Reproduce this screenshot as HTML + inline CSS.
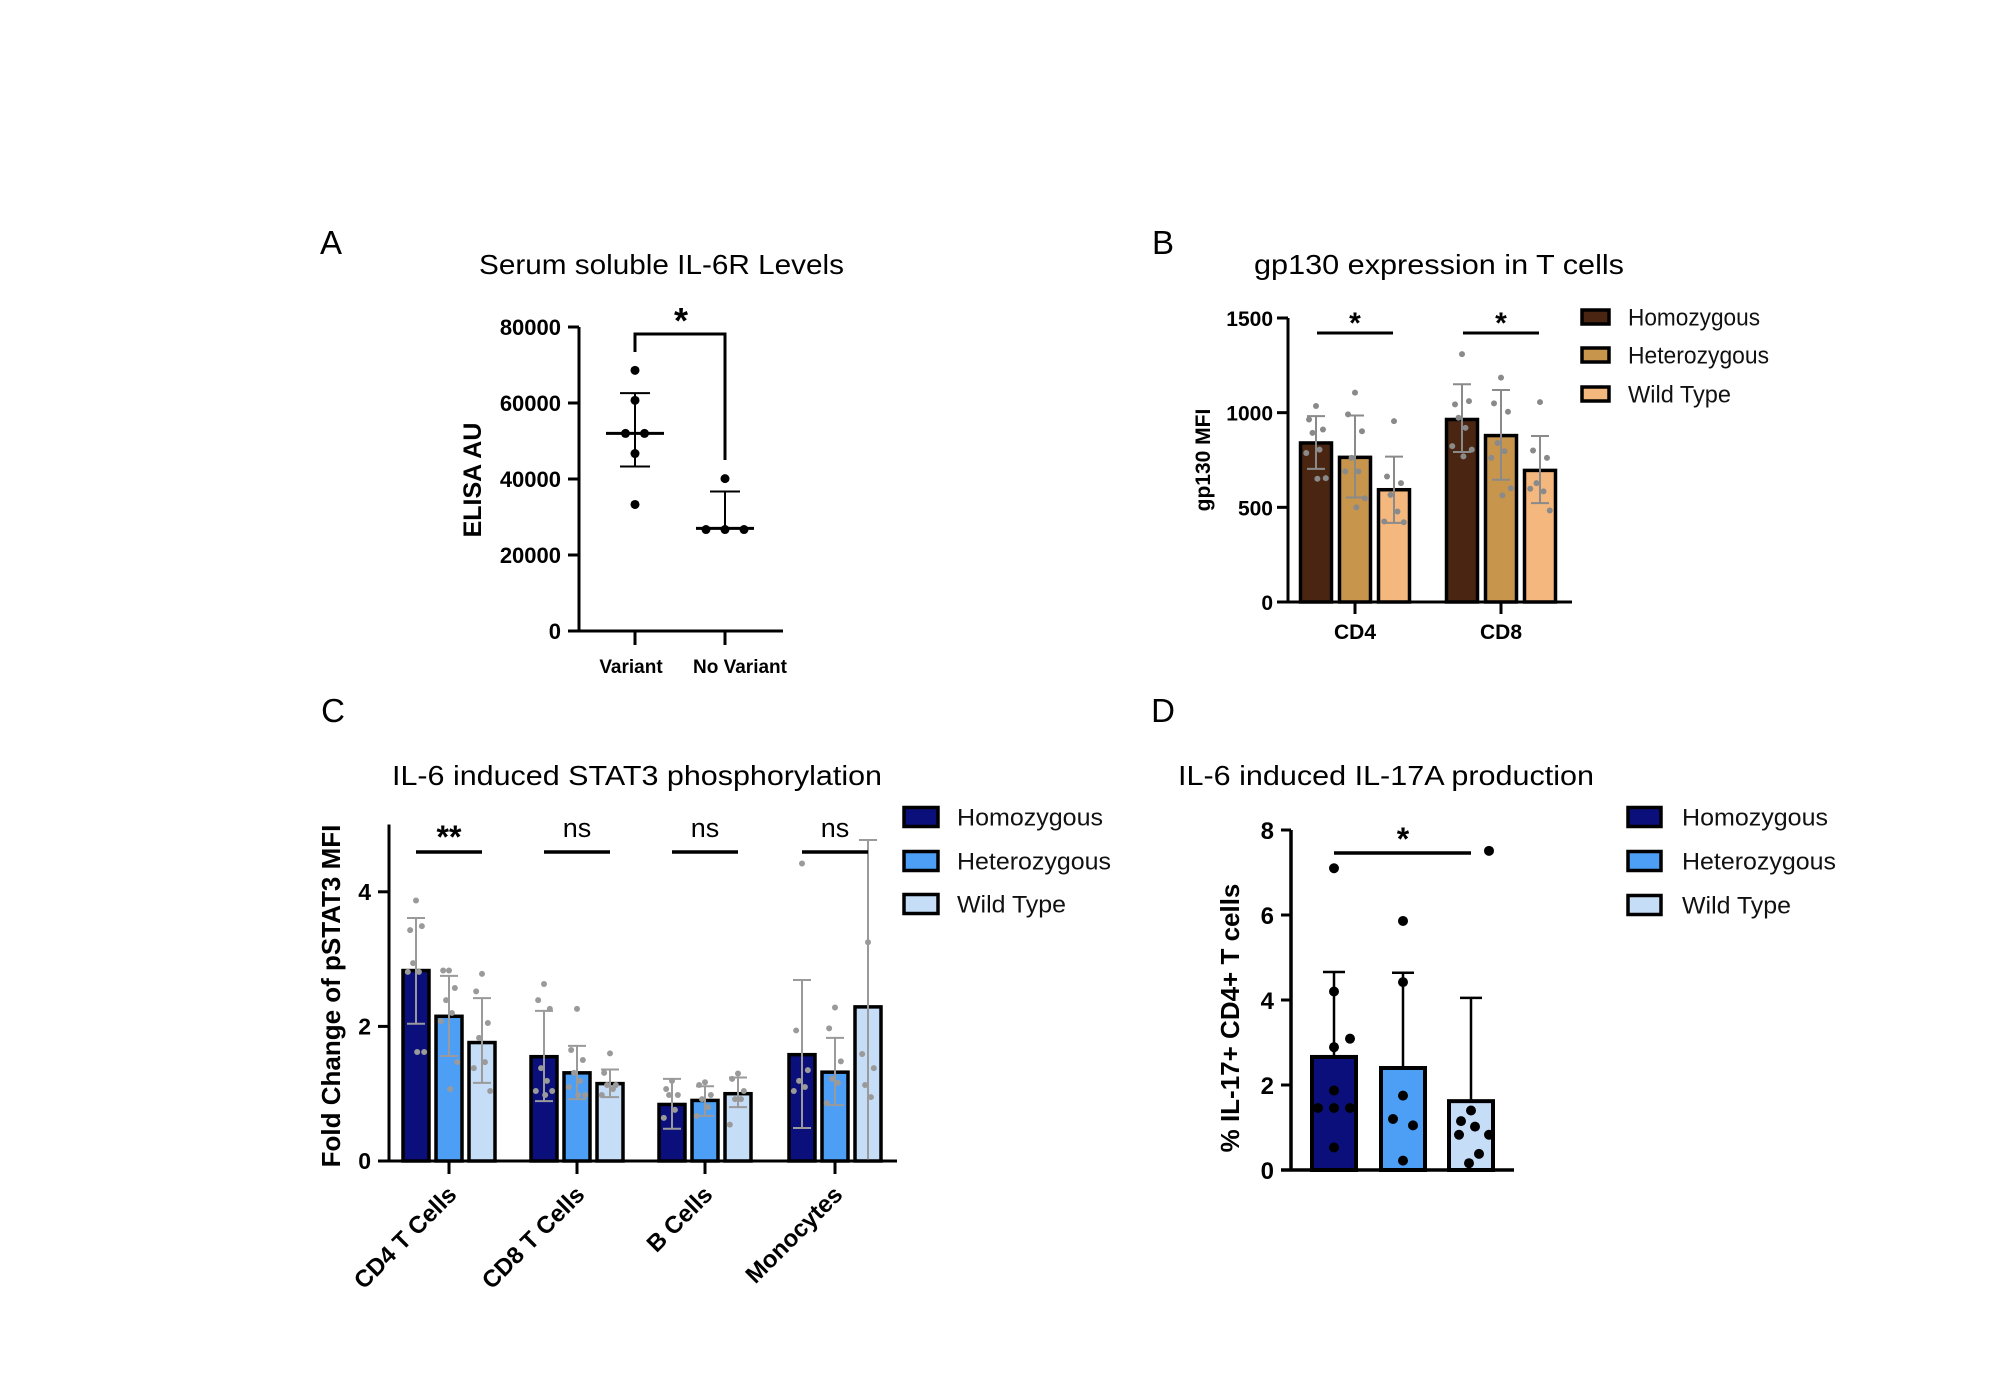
<!DOCTYPE html>
<html><head><meta charset="utf-8"><style>
html,body{margin:0;padding:0;background:#fff;}
svg{display:block;font-family:"Liberation Sans",sans-serif;}
</style></head><body>
<svg id="fig" width="2000" height="1400" viewBox="0 0 2000 1400" xmlns="http://www.w3.org/2000/svg"></svg>
<script>
// ---------- Panel A data ----------
const aCats = ['Variant','No Variant'];
const aVariantPts = [68600,60700,52000,52000,46700,33300];
const aNoVariantPts = [40100,26700,26700,26700];
const aMeans = [52000,27000];
const aErrHi = [62600,36700];
const aErrLo = [43300,27000];
const aTicks = [0,20000,40000,60000,80000];
// ---------- Panel B data ----------
const bCats = ['CD4','CD8'];
const bGroups = ['Homozygous','Heterozygous','Wild Type'];
const bHom = [840,964];
const bHet = [764,879];
const bWT = [593,695];
const bHomHi = [982,1150], bHomLo = [703,792];
const bHetHi = [985,1120], bHetLo = [552,646];
const bWTHi = [768,877], bWTLo = [418,522];
const bHomPts = [[1035,964,911,893,805,787,654,651],[1309,1044,1061,973,920,823,805,769]];
const bHetPts = [[1106,991,902,761,690,690,548,500],[1185,1049,1005,840,796,761,601,563]];
const bWTPts = [[955,663,628,566,478,425,421],[1056,800,761,628,584,598,483]];
const bTicks = [0,500,1000,1500];
const bSig = ['*','*'];
// ---------- Panel C data ----------
const cCats = ['CD4 T Cells','CD8 T Cells','B Cells','Monocytes'];
const cHom = [2.83,1.55,0.84,1.58];
const cHet = [2.15,1.31,0.90,1.32];
const cWT = [1.76,1.15,1.00,2.29];
const cHomHi = [3.61,2.23,1.22,2.69], cHomLo = [2.04,0.89,0.48,0.49];
const cHetHi = [2.75,1.71,1.11,1.83], cHetLo = [1.56,0.92,0.67,0.83];
const cWTHi = [2.42,1.36,1.24,4.77], cWTLo = [1.16,0.95,0.80,0.0];
const cHomPts = [[3.87,3.43,3.49,2.94,2.81,2.81,1.62,1.62],[2.63,2.39,2.26,1.38,1.19,1.04,1.04,0.98],[1.19,1.07,0.98,0.98,0.76,0.64],[4.42,1.94,1.35,1.19,1.10,1.04]];
const cHetPts = [[2.83,2.83,2.57,2.39,2.20,2.08,1.47,1.07],[2.26,1.65,1.50,1.31,1.19,1.10,0.98,0.98],[1.17,1.13,0.98,0.92,0.80,0.67],[2.28,1.97,1.48,1.22,1.16,0.86]];
const cWTPts = [[2.78,2.52,2.05,1.83,1.47,1.38,1.04],[1.60,1.31,1.13,1.13,1.07,0.98],[1.30,1.22,1.04,0.92,0.92,0.54],[3.25,1.59,1.38,1.13,0.95]];
const cTicks = [0,2,4];
const cSig = ['**','ns','ns','ns'];
// ---------- Panel D data ----------
const dGroups = ['Homozygous','Heterozygous','Wild Type'];
const dMeans = [2.66,2.40,1.62];
const dErrHi = [4.66,4.64,4.05];
const dPts = [[7.1,4.2,3.09,2.89,1.87,1.46,1.46,1.46,0.53],[5.86,4.42,1.75,1.2,1.05,0.22],[7.51,1.4,1.15,1.02,0.83,0.83,0.38,0.16]];
const dTicks = [0,2,4,6,8];

const NS='http://www.w3.org/2000/svg';
const svg=document.getElementById('fig');
function mk(tag,attrs,parent){const e=document.createElementNS(NS,tag);for(const k in attrs)e.setAttribute(k,attrs[k]);(parent||svg).appendChild(e);return e;}
function txt(s,attrs,parent){const e=mk('text',attrs,parent);e.textContent=s;return e;}
const jit=[0,-0.5,0.5,-0.25,0.25,-0.7,0.7,0.1,-0.1];

// ================= Panel A =================
const gA=mk('g',{transform:'translate(-2,0)'});


const yA=v=>631-v/80000*304;
const xA=[637,727];
let t=txt('A',{x:333,y:254,'font-size':33,'text-anchor':'middle'},gA);

t=txt('Serum soluble IL-6R Levels',{x:481,y:274,'font-size':28,textLength:365,lengthAdjust:'spacingAndGlyphs'},gA);

let ax=mk('path',{d:`M581 ${yA(80000)} V631 H785`,stroke:'#000','stroke-width':3,fill:'none'},gA);

aTicks.forEach(v=>{
  mk('line',{x1:570,x2:581,y1:yA(v),y2:yA(v),stroke:'#000','stroke-width':3},gA);
  const l=txt(String(v),{x:563,y:yA(v)+8,'font-size':22,'font-weight':'bold','text-anchor':'end'},gA);
  
});
aCats.forEach((c,i)=>{
  mk('line',{x1:xA[i],x2:xA[i],y1:631,y2:645,stroke:'#000','stroke-width':3},gA);
  const l=txt(c,{x:i?742:633,y:673,'font-size':19,'font-weight':'bold','text-anchor':'middle'},gA);
  
});
t=txt('ELISA AU',{x:0,y:0,'font-size':25,'font-weight':'bold','text-anchor':'middle',transform:'translate(483,480) rotate(-90)'},gA);

[aVariantPts,aNoVariantPts].forEach((pts,i)=>{
  const x=xA[i];
  mk('path',{d:`M${x} ${yA(aErrHi[i])} V${yA(aErrLo[i])} M${x-15} ${yA(aErrHi[i])} H${x+15} M${x-15} ${yA(aErrLo[i])} H${x+15}`,stroke:'#000','stroke-width':2,fill:'none'},gA);
  mk('line',{x1:x-29,x2:x+29,y1:yA(aMeans[i]),y2:yA(aMeans[i]),stroke:'#000','stroke-width':3},gA);
  const counts={};
  pts.forEach(v=>{counts[v]=(counts[v]||0)+1;});
  const seen={};
  pts.forEach(v=>{
    const n=counts[v];const k=seen[v]=(seen[v]||0);seen[v]++;
    const off=n>1?(k-(n-1)/2)*19:0;
    const d=mk('circle',{cx:x+off,cy:yA(v),r:4.5,fill:'#000'},gA);
    
  });
});
let br=mk('path',{d:`M${xA[0]} 352 V334 H${xA[1]} V460`,stroke:'#000','stroke-width':3,fill:'none'},gA);

t=txt('*',{x:683,y:333,'font-size':36,'font-weight':'bold','text-anchor':'middle'},gA);


// ================= generic grouped bar =================
function groupedBars(g,prefix,cfg){
  const {centers,offs,bw,ys,vals,his,los,pts,colors,errColor,dotColor,dotR,sw,capW}=cfg;
  centers.forEach((cx,ci)=>{
    vals.forEach((series,si)=>{
      const x=cx+offs[si], v=series[ci];
      const r=mk('rect',{x:x-bw/2,y:ys(v),width:bw,height:ys(0)-ys(v),fill:colors[si],stroke:'#000','stroke-width':sw},g);
      
      
      pts[si][ci].forEach((p,pi)=>{
        const d=mk('circle',{cx:x+jit[pi%jit.length]*bw*0.45,cy:ys(p),r:dotR,fill:dotColor},g);
        
        
      });
      const hi=his[si][ci];
      const lo=los?los[si][ci]:v;
      const e=mk('path',{d:`M${x} ${ys(hi)} V${ys(lo)} M${x-capW} ${ys(hi)} H${x+capW}`+(los?` M${x-capW} ${ys(lo)} H${x+capW}`:''),stroke:errColor,'stroke-width':2,fill:'none'},g);
      
      
    });
  });
}
function legend(g,prefix,names,colors,x,ys,tx,fs,tw,sw,sh){
  names.forEach((n,i)=>{
    const r=mk('rect',{x:x,y:ys[i]-sh/2,width:sw,height:sh,fill:colors[i],stroke:'#000','stroke-width':3.5},g);
    
    
    const l=txt(n,{x:tx,y:ys[i]+fs*0.36,'font-size':fs,textLength:tw[i],lengthAdjust:'spacingAndGlyphs',fill:'#111'},g);
    
    
  });
}

// ================= Panel B =================
const gB=mk('g',{});


const yB=v=>602-v/1500*284;
const xB=[1355,1501];
t=txt('B',{x:1163,y:254,'font-size':33,'text-anchor':'middle'},gB);

t=txt('gp130 expression in T cells',{x:1254,y:274,'font-size':28,textLength:370,lengthAdjust:'spacingAndGlyphs'},gB);

const bCols=['#4a2512','#c8954d','#f4b87f'];
groupedBars(gB,'panel-b',{centers:xB,offs:[-39,0,39],bw:31,ys:yB,vals:[bHom,bHet,bWT],his:[bHomHi,bHetHi,bWTHi],los:[bHomLo,bHetLo,bWTLo],pts:[bHomPts,bHetPts,bWTPts],colors:bCols,errColor:'#8a8a8a',dotColor:'#8a8a8a',dotR:3,sw:3.5,capW:9});
ax=mk('path',{d:`M1288 ${yB(1500)} V602 H1572`,stroke:'#000','stroke-width':3,fill:'none'},gB);

bTicks.forEach(v=>{
  mk('line',{x1:1277,x2:1288,y1:yB(v),y2:yB(v),stroke:'#000','stroke-width':3},gB);
  const l=txt(String(v),{x:1273,y:yB(v)+8,'font-size':21,'font-weight':'bold','text-anchor':'end'},gB);
  
});
bCats.forEach((c,i)=>{
  mk('line',{x1:xB[i],x2:xB[i],y1:602,y2:614,stroke:'#000','stroke-width':3},gB);
  const l=txt(c,{x:xB[i],y:639,'font-size':21,'font-weight':'bold','text-anchor':'middle'},gB);
  
  const s=mk('line',{x1:xB[i]-38,x2:xB[i]+38,y1:333,y2:333,stroke:'#000','stroke-width':3},gB);
  
  const st=txt(bSig[i],{x:xB[i],y:333,'font-size':30,'font-weight':'bold','text-anchor':'middle'},gB);
  
});
t=txt('gp130 MFI',{x:0,y:0,'font-size':21,'font-weight':'bold','text-anchor':'middle',transform:'translate(1210,460) rotate(-90)'},gB);

legend(gB,'panel-b',bGroups,bCols,1582,[317,355,394],1628,24,[132,141,103],27,14);

// ================= Panel C =================
const gC=mk('g',{});


const yC=v=>1161-v*67.3;
const xC=[449,577,705,835];
const cCols=['#0b0f7c','#4c9ff5','#c6ddf8'];
t=txt('C',{x:333,y:722,'font-size':33,'text-anchor':'middle'},gC);

t=txt('IL-6 induced STAT3 phosphorylation',{x:392,y:785,'font-size':28,textLength:490,lengthAdjust:'spacingAndGlyphs'},gC);

groupedBars(gC,'panel-c',{centers:xC,offs:[-33,0,33],bw:26,ys:yC,vals:[cHom,cHet,cWT],his:[cHomHi,cHetHi,cWTHi],los:[cHomLo,cHetLo,cWTLo],pts:[cHomPts,cHetPts,cWTPts],colors:cCols,errColor:'#9a9a9a',dotColor:'#9a9a9a',dotR:3,sw:3.5,capW:9});
ax=mk('path',{d:`M389 ${yC(5)} V1161 M378 1161 H897`,stroke:'#000','stroke-width':3,fill:'none'},gC);

cTicks.forEach(v=>{
  mk('line',{x1:378,x2:389,y1:yC(v),y2:yC(v),stroke:'#000','stroke-width':3},gC);
  const l=txt(String(v),{x:371,y:yC(v)+8,'font-size':23,'font-weight':'bold','text-anchor':'end'},gC);
  
});
cCats.forEach((c,i)=>{
  mk('line',{x1:xC[i],x2:xC[i],y1:1161,y2:1174,stroke:'#000','stroke-width':3},gC);
  const l=txt(c,{x:0,y:0,'font-size':24,'font-weight':'bold','text-anchor':'end',transform:`translate(${xC[i]+9},${1196}) rotate(-45)`},gC);
  
  const s=mk('line',{x1:xC[i]-33,x2:xC[i]+33,y1:852,y2:852,stroke:'#000','stroke-width':3.5},gC);
  
  const isNs=cSig[i]==='ns';
  const st=txt(cSig[i],{x:xC[i],y:isNs?837:848,'font-size':isNs?27:32,'font-weight':isNs?'normal':'bold','text-anchor':'middle'},gC);
  
});
t=txt('Fold Change of pSTAT3 MFI',{x:0,y:0,'font-size':26,'font-weight':'bold','text-anchor':'middle',transform:'translate(340,996) rotate(-90)'},gC);

legend(gC,'panel-c',['Homozygous','Heterozygous','Wild Type'],cCols,904,[817,861,904],957,24,[146,154,109],34,19);

// ================= Panel D =================
const gD=mk('g',{});


const yD=v=>1170-v*42.5;
const xD=[1334,1403,1471];
t=txt('D',{x:1163,y:722,'font-size':33,'text-anchor':'middle'},gD);

t=txt('IL-6 induced IL-17A production',{x:1178,y:785,'font-size':28,textLength:416,lengthAdjust:'spacingAndGlyphs'},gD);

const dJit=[[0,0,0.8,0,0,-0.8,0,0.8,0],[0,0,0,-0.5,0.5,0],[0.9,0,-0.5,0.2,-0.6,0.9,0.4,-0.1]];
dMeans.forEach((v,i)=>{
  const x=xD[i];
  const e=mk('path',{d:`M${x} ${yD(dErrHi[i])} V${yD(v)} M${x-11} ${yD(dErrHi[i])} H${x+11}`,stroke:'#000','stroke-width':2.5,fill:'none'},gD);
  
  const r=mk('rect',{x:x-22,y:yD(v),width:44,height:yD(0)-yD(v),fill:cCols[i],stroke:'#000','stroke-width':4},gD);
  
  dPts[i].forEach((p,pi)=>{
    const jj=dJit[i][pi]||0;
    const d=mk('circle',{cx:x+jj*20,cy:yD(p),r:5,fill:'#000'},gD);
    
  });
});
ax=mk('path',{d:`M1291 ${yD(8)} V1170 M1281 1170 H1514`,stroke:'#000','stroke-width':3.5,fill:'none'},gD);

dTicks.forEach(v=>{
  mk('line',{x1:1281,x2:1291,y1:yD(v),y2:yD(v),stroke:'#000','stroke-width':3},gD);
  const l=txt(String(v),{x:1274,y:yD(v)+9,'font-size':24,'font-weight':'bold','text-anchor':'end'},gD);
  
});
let sl=mk('line',{x1:xD[0],x2:xD[2],y1:853,y2:853,stroke:'#000','stroke-width':3.5},gD);

t=txt('*',{x:xD[1],y:850,'font-size':32,'font-weight':'bold','text-anchor':'middle'},gD);

t=txt('% IL-17+ CD4+ T cells',{x:0,y:0,'font-size':26,'font-weight':'bold','text-anchor':'middle',transform:'translate(1239,1018) rotate(-90)'},gD);

legend(gD,'panel-d',dGroups,cCols,1628,[817,861,905],1682,24,[146,154,109],33,19);
</script>
</body></html>
